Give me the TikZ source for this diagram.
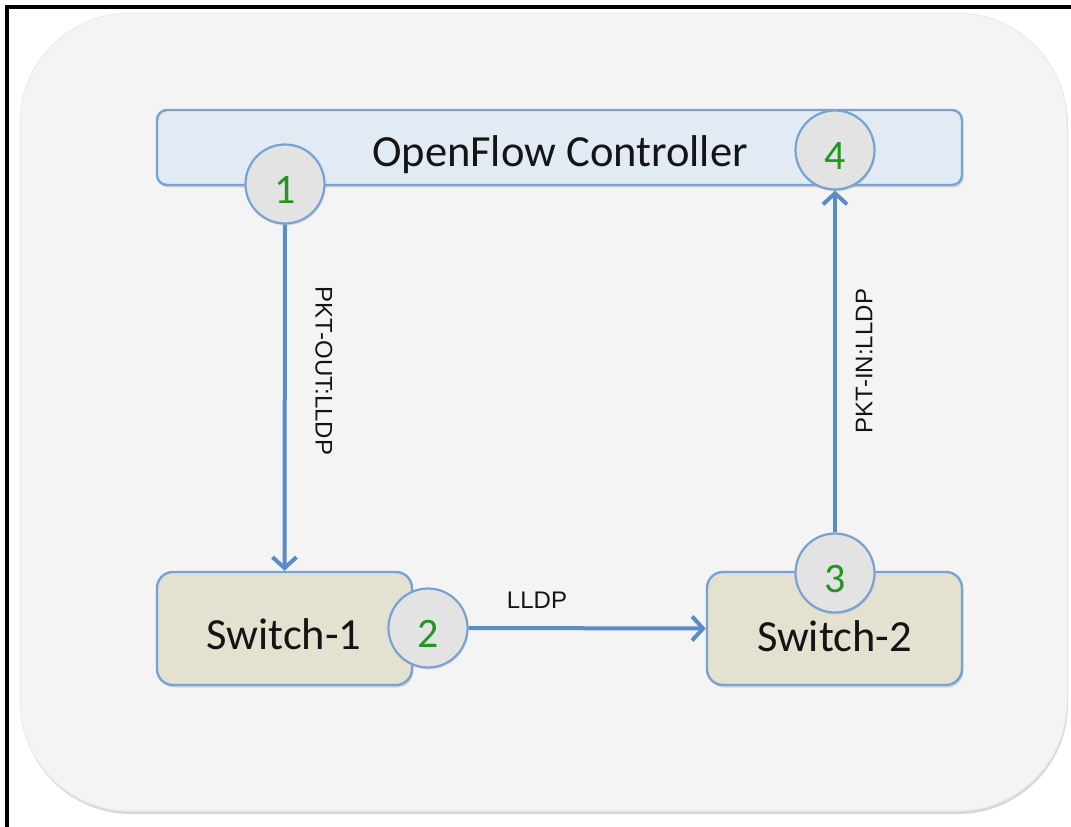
\documentclass[tikz,border=0pt]{standalone}
\usepackage{fontspec}
\setmainfont{Carlito}
\newfontfamily\labelfont{Liberation Sans}
\usetikzlibrary{arrows.meta,shadows}
\definecolor{bgfill}{HTML}{F4F4F4}
\definecolor{bgedge}{HTML}{EBEBEB}
\definecolor{ctrlfill}{HTML}{E2EAF4}
\definecolor{edgeblue}{HTML}{78A2D3}
\definecolor{arrowblue}{HTML}{5A8DC7}
\definecolor{swfill}{HTML}{E4E1D0}
\definecolor{numfill}{HTML}{E3E3E3}
\definecolor{numgreen}{HTML}{23961F}
\definecolor{txt}{HTML}{141414}
\tikzset{
  ctrlbox/.style={draw=edgeblue, line width=2.4pt, fill=ctrlfill, rounded corners=10pt,
    minimum width=805pt, minimum height=75pt, inner sep=0pt,
    drop shadow={shadow xshift=1.5pt, shadow yshift=-2.5pt, opacity=0.25}},
  swbox/.style={draw=edgeblue, line width=2.4pt, fill=swfill, rounded corners=16pt,
    minimum width=255pt, minimum height=113pt, inner sep=0pt,
    drop shadow={shadow xshift=1.5pt, shadow yshift=-2.5pt, opacity=0.25}},
  numc/.style={circle, draw=edgeblue, line width=2.2pt, fill=numfill, minimum size=79pt, inner sep=0pt,
    drop shadow={shadow xshift=1pt, shadow yshift=-2pt, opacity=0.2}},
  numtxt/.style={text=numgreen, font=\fontsize{42}{46}\selectfont, inner sep=0pt},
  bigtxt/.style={text=txt, font=\fontsize{44.5}{48}\selectfont, inner sep=0pt},
  smalltxt/.style={text=txt, font=\labelfont\fontsize{24}{26}\selectfont, inner sep=0pt},
  conn/.style={draw=arrowblue, line width=4pt, -{Straight Barb[length=11pt,width=24pt,line width=4pt]}},
}
\begin{document}
\begin{tikzpicture}[x=1pt,y=-1pt]
\useasboundingbox (0,0) rectangle (1071,827);
\clip (0,0) rectangle (1071,827);
\fill[white] (0,0) rectangle (1071,827);
% background panel
\node[draw=bgedge, line width=1pt, fill=bgfill, rounded corners=110pt, minimum width=1047pt, minimum height=798pt,
  drop shadow={shadow xshift=1pt, shadow yshift=-3pt, opacity=0.3}] (panel) at (543.5,412) {};
\fill[white] (1040,9) rectangle (1071,50);
% frame lines
\draw[black, line width=3.2pt] (7,830) -- (7,7) -- (1075,7);
% controller
\node[ctrlbox] (ctrl) at (559.5,147.5) {};
\node[bigtxt] (ctrltxt) at (560,155) {OpenFlow Controller};
% switches
\node[swbox] (sw1) at (284.5,628.5) {};
\node[swbox] (sw2) at (834.5,628.5) {};
\node[bigtxt] (sw1txt) at (284,634) {Switch-1};
\node[bigtxt] (sw2txt) at (834.5,636) {Switch-2};
% numbered circles
\node[numc] (c1) at (285,184) {};
\node[numtxt] (n1) at (285,190) {1};
\node[numc] (c4) at (835,150) {};
\node[numtxt] (n4) at (835,156) {4};
\node[numc] (c2) at (428,628) {};
\node[numtxt] (n2) at (428,634) {2};
\node[numc] (c3) at (835,573) {};
\node[numtxt] (n3) at (835,579) {3};
% connectors
\draw[conn] (c1.south) -- (sw1.north);
\draw[conn] (c2.east) -- (sw2.west);
\draw[conn] (c3.north) -- (c4.south);
% labels
\node[smalltxt, rotate=-90] (l1) at (324,371) {PKT-OUT:LLDP};
\node[smalltxt, rotate=90] (l3) at (864,361) {PKT-IN:LLDP};
\node[smalltxt] (l2) at (537,600) {LLDP};
\end{tikzpicture}
\end{document}
